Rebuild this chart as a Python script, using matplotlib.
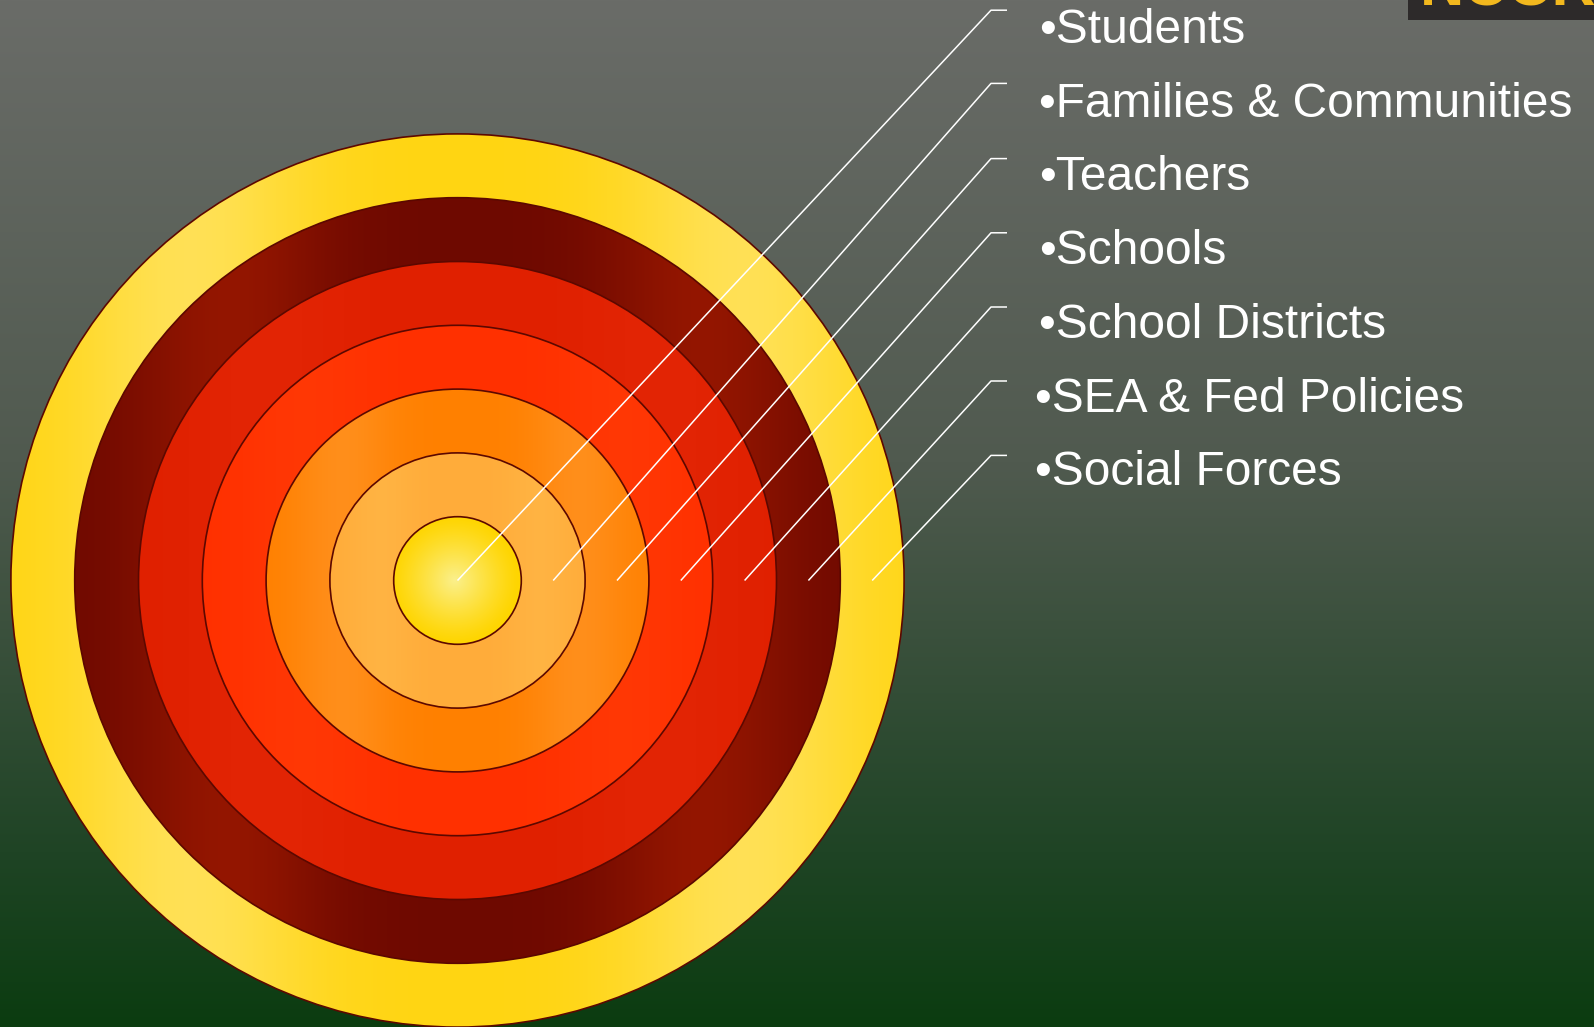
import numpy as np
import matplotlib.pyplot as plt
from matplotlib.patches import Wedge, Circle, Rectangle
from matplotlib.colors import to_rgb

# rings from the centre outwards
labels = ["Students", "Families & Communities", "Teachers", "Schools",
          "School Districts", "SEA & Fed Policies", "Social Forces"]
base_colors = ["#ffd500", "#ffac3a", "#ff8000", "#ff3000", "#e02000", "#6e0900", "#ffd512"]
light_colors = ["#fbf08c", "#ffb848", "#ff9a30", "#ff3c08", "#e42808", "#a01a00", "#ffe466"]
band_strength = [1.0, 0.6, 0.55, 0.6, 0.6, 0.75, 0.8]

W, H = 1594, 1027
cx, cy = 457.5, 580.5
dr = 63.8
line_x, line_x2 = 991, 1007
line_y = [10.2, 83.4, 158.6, 232.8, 307.0, 381.0, 455.4]
text_x = [1039, 1039, 1039, 1039, 1039, 1035, 1035]
text_base = [43, 117, 190, 264, 338, 412, 485]

fig = plt.figure(figsize=(W / 100, H / 100), dpi=100)
ax = fig.add_axes([0, 0, 1, 1])
ax.set_xlim(0, W)
ax.set_ylim(H, 0)
ax.axis("off")

# background: grey at the top fading to dark green
stops = [0.0, 0.45, 0.83, 1.0]
cols = np.array([[106, 108, 104], [80, 90, 79], [31, 68, 37], [11, 60, 16]]) / 255
yy = np.linspace(0, 1, 400)
bg = np.stack([np.interp(yy, stops, cols[:, k]) for k in range(3)], axis=1)
ax.imshow(bg[:, None, :], extent=(0, W, H, 0), aspect="auto", zorder=0)

# rings, outermost first
for i in range(len(labels) - 1, -1, -1):
    r_out = dr * (i + 1)
    r_in = dr * i
    base = np.array(to_rgb(base_colors[i]))
    light = np.array(to_rgb(light_colors[i]))
    if i == 0:
        g = np.linspace(-1, 1, 200)
        gx, gy = np.meshgrid(g, g)
        w = np.clip(1 - np.hypot(gx + 0.05, gy), 0, 1) ** 1.2
        img = base * (1 - w[..., None]) + light * w[..., None]
    else:
        t = np.linspace(0, 1, 300)
        w = np.exp(-((t - 0.2) / 0.13) ** 2) + np.exp(-((t - 0.82) / 0.13) ** 2)
        w = np.clip(w, 0, 1) * band_strength[i]
        row = base * (1 - w[:, None]) + light * w[:, None]
        img = np.stack([row, row])
    wedge = Wedge((cx, cy), r_out, 0, 360, width=r_out - r_in,
                  facecolor="none", edgecolor="none")
    ax.add_patch(wedge)
    im = ax.imshow(img, extent=(cx - r_out, cx + r_out, cy + r_out, cy - r_out),
                   aspect="auto", zorder=1, interpolation="bilinear")
    im.set_clip_path(wedge)

for i in range(len(labels)):
    ax.add_patch(Circle((cx, cy), dr * (i + 1), facecolor="none",
                        edgecolor="#5c0800", lw=1.2, zorder=2))

# leader lines and labels
for i, lab in enumerate(labels):
    x0 = cx if i == 0 else cx + dr * (i + 0.5)
    ax.plot([x0, line_x, line_x2], [cy, line_y[i], line_y[i]],
            color="white", lw=1.1, zorder=3, solid_capstyle="butt")
    ax.text(text_x[i], text_base[i], "\u2022" + lab, color="white",
            fontsize=34.5, family="Liberation Sans", va="baseline", ha="left", zorder=3)

# logo strip cut off at the top right
ax.add_patch(Rectangle((1408, 0), W - 1408, 19.5, facecolor="#2d2a2a",
                       edgecolor="none", zorder=3))
ax.text(1420, 5.5, "NCCRES", color="#f2b81e", fontsize=44, fontweight="bold",
        family="Liberation Sans", va="baseline", ha="left", zorder=4, clip_on=True)

fig.savefig("out.png", dpi=100)
